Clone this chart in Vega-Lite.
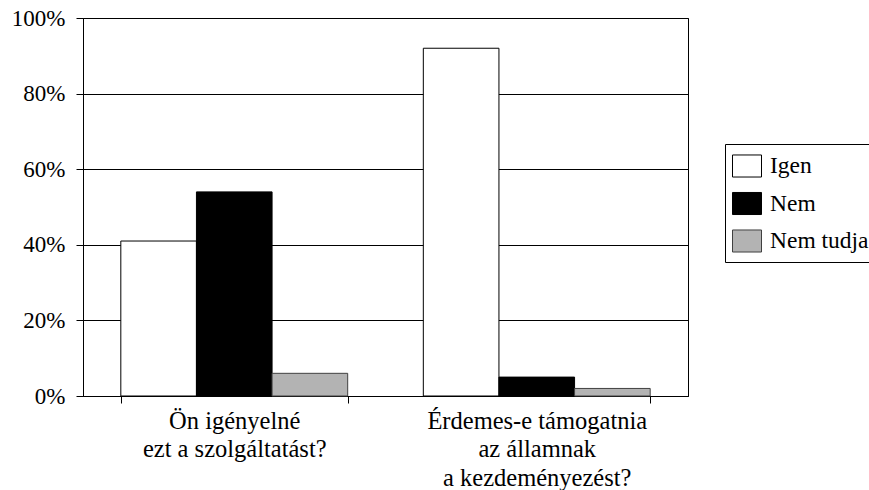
{
  "$schema": "https://vega.github.io/schema/vega-lite/v6.json",
  "autosize": {"type": "none"},
  "padding": {"left": 83, "top": 18, "right": 181, "bottom": 94},
  "width": 605,
  "height": 378,
  "background": "white",
  "data": {
    "values": [
      {"q": "Ön igényelné\nezt a szolgáltatást?", "answer": "Igen", "value": 0.41},
      {"q": "Ön igényelné\nezt a szolgáltatást?", "answer": "Nem", "value": 0.54},
      {"q": "Ön igényelné\nezt a szolgáltatást?", "answer": "Nem tudja", "value": 0.06},
      {"q": "Érdemes-e támogatnia\naz államnak\na kezdeményezést?", "answer": "Igen", "value": 0.92},
      {"q": "Érdemes-e támogatnia\naz államnak\na kezdeményezést?", "answer": "Nem", "value": 0.05},
      {"q": "Érdemes-e támogatnia\naz államnak\na kezdeményezést?", "answer": "Nem tudja", "value": 0.02}
    ]
  },
  "mark": {"type": "bar", "strokeWidth": 1},
  "encoding": {
    "x": {
      "field": "q",
      "type": "nominal",
      "sort": null,
      "title": null,
      "scale": {"paddingInner": 0.25, "paddingOuter": 0.125},
      "axis": {
        "labelAngle": 0,
        "labelExpr": "split(datum.label, '\\n')",
        "labelFont": "Liberation Serif, Times New Roman, serif",
        "labelFontSize": 24.5,
        "labelLineHeight": 28.5,
        "labelColor": "black",
        "labelPadding": 6,
        "labelLimit": 400,
        "tickBand": "extent",
        "tickSize": 7,
        "tickColor": "black",
        "domainColor": "black",
        "grid": false
      }
    },
    "xOffset": {"field": "answer", "type": "nominal", "sort": ["Igen", "Nem", "Nem tudja"]},
    "y": {
      "field": "value",
      "type": "quantitative",
      "title": null,
      "scale": {"domain": [0, 1], "nice": false},
      "axis": {
        "values": [0, 0.2, 0.4, 0.6, 0.8, 1],
        "format": ".0%",
        "labelFont": "Liberation Serif, Times New Roman, serif",
        "labelFontSize": 23,
        "labelColor": "black",
        "labelPadding": 11,
        "tickSize": 7,
        "tickColor": "black",
        "domainColor": "black",
        "gridColor": "black",
        "gridOpacity": 1,
        "gridWidth": 1
      }
    },
    "fill": {
      "field": "answer",
      "type": "nominal",
      "sort": ["Igen", "Nem", "Nem tudja"],
      "scale": {"domain": ["Igen", "Nem", "Nem tudja"], "range": ["#ffffff", "#000000", "#b3b3b3"]},
      "legend": {
        "title": null,
        "orient": "none",
        "legendX": 642,
        "legendY": 126,
        "strokeColor": "black",
        "fillColor": "white",
        "padding": 7,
        "symbolType": "M-1,-0.76L1,-0.76L1,0.76L-1,0.76Z",
        "symbolSize": 841,
        "symbolStrokeColor": "black",
        "symbolStrokeWidth": 1,
        "symbolOpacity": 1,
        "labelFont": "Liberation Serif, Times New Roman, serif",
        "labelFontSize": 23.5,
        "labelColor": "black",
        "labelOffset": 8,
        "rowPadding": 8.5,
        "labelLimit": 200
      }
    },
    "stroke": {
      "field": "answer",
      "type": "nominal",
      "scale": {"domain": ["Igen", "Nem", "Nem tudja"], "range": ["#000000", "#000000", "#404040"]},
      "legend": null
    }
  },
  "config": {
    "font": "Liberation Serif, Times New Roman, serif",
    "view": {"stroke": "black", "strokeWidth": 1},
    "axis": {"gridColor": "black"}
  }
}
